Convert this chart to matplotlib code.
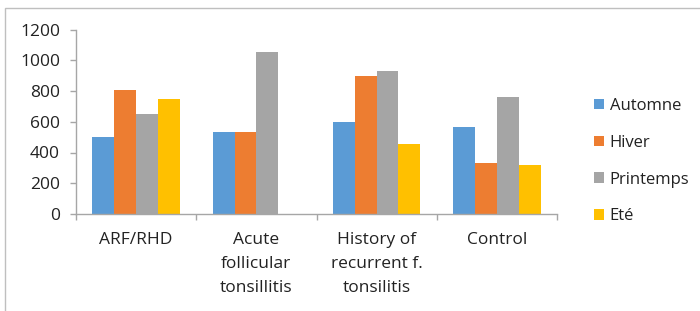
import matplotlib
matplotlib.use("Agg")
import matplotlib.pyplot as plt
import numpy as np
from matplotlib.patches import Rectangle

categories = ["ARF/RHD", "Acute\nfollicular\ntonsillitis", "History of\nrecurrent f.\ntonsilitis", "Control"]
series_names = ["Automne", "Hiver", "Printemps", "Eté"]
automne = [504, 536, 601, 566]
hiver = [806, 536, 897, 329]
printemps = [651, 1055, 932, 763]
ete = [750, 0, 456, 318]
yticks = [0, 200, 400, 600, 800, 1000, 1200]
colors = ["#5B9BD5", "#ED7D31", "#A5A5A5", "#FFC000"]

plt.rcParams['font.family'] = ['Open Sans', 'DejaVu Sans']
fs = 12.5

W, H = 700, 311
fig = plt.figure(figsize=(W / 100, H / 100), dpi=100)
ax = fig.add_axes([76 / W, 1 - 214 / H, (557 - 76) / W, (214 - 29.5) / H])

n = len(series_names)
bw = 1 / (n + 1.5)
x = np.arange(len(categories))
for i, (name, vals) in enumerate(zip(series_names, [automne, hiver, printemps, ete])):
    ax.bar(x + (i - (n - 1) / 2) * bw, vals, width=bw, color=colors[i], label=name, zorder=2)

ax.set_xlim(-0.5, len(categories) - 0.5)
ax.set_ylim(0, 1200)
ax.set_yticks(yticks)
ax.set_yticklabels([str(v) for v in yticks], fontsize=fs)
ax.set_xticks(x)
ax.set_xticklabels(categories, fontsize=fs, linespacing=1.65)
ax.set_xticks(np.arange(len(categories) + 1) - 0.5, minor=True)

axis_col = "#A6A6A6"
for s in ["top", "right"]:
    ax.spines[s].set_visible(False)
ax.spines["left"].set_color(axis_col)
ax.spines["bottom"].set_color(axis_col)
ax.spines["left"].set_linewidth(1.0)
ax.spines["bottom"].set_linewidth(1.0)
ax.tick_params(axis="y", length=4.5, color=axis_col, width=1.0, pad=7, labelcolor="#222222")
ax.tick_params(axis="x", which="major", length=0, pad=13, labelcolor="#222222")
ax.tick_params(axis="x", which="minor", length=4.5, color=axis_col, width=1.0)

leg = ax.legend(loc="upper left", bbox_to_anchor=(594 / W, 1 - 98 / H), bbox_transform=fig.transFigure,
                frameon=False, fontsize=12, handlelength=0.6, handleheight=0.6,
                handletextpad=0.35, labelspacing=1.25, borderpad=0, borderaxespad=0)
for t in leg.get_texts():
    t.set_color("#222222")

fig.add_artist(Rectangle((5 / W, -0.2), 1.2, 1.2 - 8 / H + 0.0, transform=fig.transFigure,
                         fill=False, edgecolor="#BFBFBF", linewidth=1.0))

fig.savefig("out.png", dpi=100)
